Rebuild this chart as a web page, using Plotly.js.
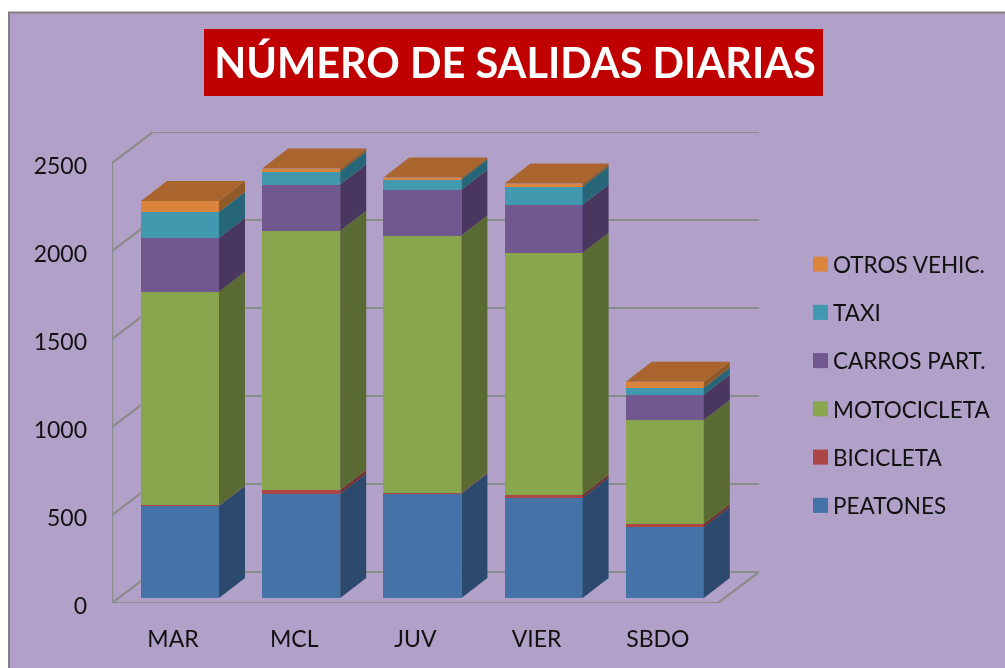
<!DOCTYPE html>
<html><head><meta charset="utf-8">
<script src="https://cdn.plot.ly/plotly-3.0.1.min.js"></script>
<style>html,body{margin:0;padding:0;background:#fff;overflow:hidden}#chart{filter:blur(.5px)}</style>
</head><body><div id="chart" style="width:1005px;height:668px"></div>
<script>
const categories = ['MAR','MCL','JUV','VIER','SBDO'];
const peatones    = [523, 592, 592, 569, 404];
const bicicleta   = [3, 22, 5, 17, 17];
const motocicleta = [1214, 1473, 1462, 1376, 591];
const carrosPart  = [305, 262, 261, 273, 143];
const taxi        = [148, 74, 58, 103, 40];
const otrosVehic  = [62, 17, 11, 17, 34];
const yTicks = [0, 500, 1000, 1500, 2000, 2500];

const seriesNames = ['PEATONES','BICICLETA','MOTOCICLETA','CARROS PART.','TAXI','OTROS VEHIC.'];
const seriesValues = [peatones, bicicleta, motocicleta, carrosPart, taxi, otrosVehic];
const frontColors = ['#4573a7','#aa4644','#89a54e','#71588f','#4298af','#db843d'];
const sideColors  = ['#2b4a6e','#723030','#5a6a33','#4a375f','#276678','#8f5a28'];
const topColor = '#a9652d';
const wallColor = '#8c8c8c';
const bg = '#b1a0c7';
const FONT = 'Lato, Carlito, sans-serif';

// chart geometry expressed in axis units
const pxX = 121.2, pxY = 0.176;
const W = 1005, H = 668, L = 112, T = 132, B = 65;
const x0 = -0.561, floorW = 5;
const wallDx = 41 / pxX, wallDy = 31 / pxY;
const barShift = 5 / pxY;
const barHalf = 39 / pxX, sideDx = 26 / pxX, sideDy = 20 / pxY;
const xRange = [x0, x0 + floorW + wallDx];
const yMax = 2500 + wallDy;
const plotW = (xRange[1] - xRange[0]) * pxX;
const px = v => (v - L) / plotW;
const py = v => 1 - (v - T) / (H - T - B);

const traces = [];

// walls and floor (below everything)
let wx = [], wy = [];
yTicks.forEach(v => {
  if (v === 0) return;
  wx.push(x0, x0 + wallDx, x0 + floorW + wallDx, null);
  wy.push(v, v + wallDy, v + wallDy, null);
});
wx.push(x0, x0 + wallDx, x0 + floorW + wallDx, x0 + floorW, x0, x0, null);
wy.push(0, wallDy, wallDy, 0, 0, 2500, null);
traces.push({type:'scatter', mode:'lines', x:wx, y:wy, xaxis:'x', yaxis:'y',
  line:{color:wallColor, width:2.2}, hoverinfo:'skip', showlegend:false, cliponaxis:false});

// front faces
seriesNames.forEach((name, s) => {
  traces.push({type:'bar', name, x:categories, y:seriesValues[s], xaxis:'x2', yaxis:'y2',
    marker:{color:frontColors[s], line:{width:0}}, legendgroup:name, legendrank:10 - s});
});

// side faces, derived from stacked values
const stackBase = categories.map(() => 0);
seriesNames.forEach((name, s) => {
  let sx = [], sy = [];
  categories.forEach((c, i) => {
    const b = stackBase[i], t = b + seriesValues[s][i], r = i + barHalf;
    sx.push(r, r + sideDx, r + sideDx, r, r, null);
    sy.push(b, b + sideDy, t + sideDy, t, b, null);
    stackBase[i] = t;
  });
  traces.push({type:'scatter', mode:'none', fill:'toself', fillcolor:sideColors[s], x:sx, y:sy,
    xaxis:'x3', yaxis:'y2', hoverinfo:'skip', showlegend:false});
});

// top faces
let tx = [], ty = [];
categories.forEach((c, i) => {
  const t = stackBase[i], l = i - barHalf, r = i + barHalf;
  tx.push(l, r, r + sideDx, l + sideDx, l, null);
  ty.push(t, t, t + sideDy, t + sideDy, t, null);
});
traces.push({type:'scatter', mode:'none', fill:'toself', fillcolor:topColor, x:tx, y:ty,
  xaxis:'x3', yaxis:'y2', hoverinfo:'skip', showlegend:false});

const hiddenAxis = {showgrid:false, zeroline:false, showline:false, showticklabels:false, ticks:''};
const layout = {
  width:W, height:H, autosize:false,
  margin:{l:L, r:W - L - plotW, t:T, b:B, pad:0, autoexpand:false},
  paper_bgcolor:'#ffffff', plot_bgcolor:'rgba(0,0,0,0)',
  font:{family:FONT, size:23, color:'#111111'},
  barmode:'stack', bargap:1 - 2 * barHalf,
  title:{text:'NÚMERO DE SALIDAS DIARIAS', font:{family:FONT, size:41.5, color:'#ffffff', weight:700},
    x:(215+815)/2/W, xanchor:'center', xref:'container', y:1-63/H, yanchor:'middle', yref:'container'},
  xaxis:Object.assign({}, hiddenAxis, {type:'linear', range:xRange}),
  yaxis:{type:'linear', range:[0, yMax], showgrid:false, zeroline:false, showline:false, ticks:'',
    tickmode:'array', tickvals:yTicks, ticktext:yTicks.map(String), ticklabelstandoff:24,
    ticklabelshift:3, tickfont:{family:FONT, size:23, color:'#111111'}},
  xaxis2:{type:'category', overlaying:'x', anchor:'y2', range:xRange, showgrid:false, zeroline:false,
    showline:false, ticks:'', tickangle:0, ticklabelstandoff:20, ticklabelshift:-7,
    categoryorder:'array', categoryarray:categories, tickfont:{family:FONT, size:23, color:'#111111'}},
  yaxis2:Object.assign({}, hiddenAxis, {type:'linear', overlaying:'y', anchor:'x2', range:[-barShift, yMax - barShift]}),
  xaxis3:Object.assign({}, hiddenAxis, {type:'linear', overlaying:'x', anchor:'y2', range:xRange}),
  legend:{x:px(793), xanchor:'left', y:py(243), yanchor:'top', traceorder:'grouped',
    tracegroupgap:16, bgcolor:'rgba(0,0,0,0)', borderwidth:0, itemclick:false, itemdoubleclick:false,
    font:{family:FONT, size:22.5, color:'#111111'}},
  shapes:[
    {type:'rect', layer:'below', xref:'paper', yref:'paper', x0:px(9), x1:px(1010), y0:py(12.5), y1:py(675),
      fillcolor:bg, line:{color:'#808080', width:2}},
    {type:'rect', layer:'below', xref:'paper', yref:'paper', x0:px(204), x1:px(823), y0:py(29), y1:py(96),
      fillcolor:'#c00000', line:{width:0}}
  ],
  showlegend:true, hovermode:false
};

Plotly.newPlot('chart', traces, layout, {displayModeBar:false}).then(() => {
  document.querySelectorAll('.legend .legendbar path, .legend .legendpoints path').forEach(p => {
    const t = p.getAttribute('transform') || '';
    p.setAttribute('transform', t + ' translate(7.5,0) scale(1.25)');
  });
});
</script></body></html>
